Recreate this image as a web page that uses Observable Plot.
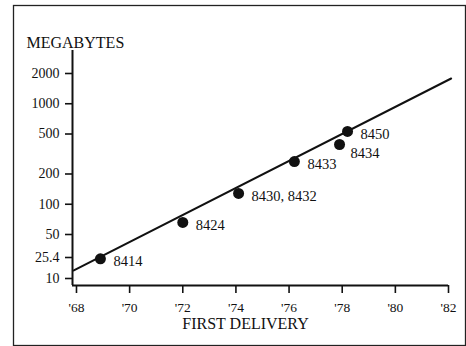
<!DOCTYPE html>
<html><head><meta charset="utf-8">
<script src="https://cdn.jsdelivr.net/npm/d3@7"></script>
<script src="https://cdn.jsdelivr.net/npm/@observablehq/plot@0.6"></script>
<style>
html,body{margin:0;padding:0;background:#fff;}
svg g[aria-label^="x-axis"] path, svg g[aria-label^="y-axis"] path,
svg g[aria-label^="x-axis"] line, svg g[aria-label^="y-axis"] line {stroke-width:1.6px;}
svg g[aria-label^="x-axis"] text {font-size:13.5px;}
</style>
</head><body><div id="chart"></div>
<script>
// Disk drive models, first delivery year and capacity (MB)
const models = ["8414", "8424", "8430, 8432", "8433", "8434", "8450"];
const firstDelivery = [1968.9, 1972.0, 1974.1, 1976.2, 1977.9, 1978.2];
const megabytes = [24, 66, 128, 266, 393, 530];

// Trend line end points
const trendYears = [1967.9, 1982.1];
const trendMegabytes = [14.3, 1784];

// Tick labels
const xTicks = [1968, 1970, 1972, 1974, 1976, 1978, 1980, 1982];
const yTicks = [10, 25.4, 50, 100, 200, 500, 1000, 2000];

const points = models.map((m, i) => ({model: m, year: firstDelivery[i], mb: megabytes[i]}));
const trend = trendYears.map((y, i) => ({year: y, mb: trendMegabytes[i]}));

const yDomain = [7.3, 10, 25.4, 50, 2000];

const chart = Plot.plot({
  width: 466,
  height: 346,
  marginLeft: 72,
  marginRight: 18,
  marginTop: 50,
  marginBottom: 61,
  style: {fontFamily: "'Liberation Serif', 'DejaVu Serif', serif", fontSize: "14px", background: "#fff", color: "#111"},
  x: {
    domain: [1967.85, 1982],
    ticks: xTicks,
    tickFormat: d => "'" + String(d).slice(2),
    tickSize: 8,
    tickPadding: 9,
    label: null
  },
  y: {
    type: "log",
    domain: yDomain,
    range: [285, 278, 257, 234, 73],
    ticks: yTicks,
    tickFormat: () => "",
    tickSize: 7,
    tickPadding: 6,
    label: null
  },
  marks: [
    Plot.frame({stroke: "#222", strokeWidth: 1.3, insetLeft: -59, insetTop: -45, insetRight: -17, insetBottom: -60}),
    Plot.ruleX([1967.85], {stroke: "#111", strokeWidth: 2}),
    Plot.ruleY([yDomain[0]], {stroke: "#111", strokeWidth: 2}),
    Plot.text(yTicks, {y: d => d, frameAnchor: "left", text: d => String(d), textAnchor: "end", dx: -13, fontSize: 14, fill: "#111"}),
    Plot.line(trend, {x: "year", y: "mb", stroke: "#111", strokeWidth: 2}),
    Plot.dot(points, {x: "year", y: "mb", r: 5.5, fill: "#111", stroke: "none"}),
    Plot.text(points.filter(d => d.model !== "8434"), {x: "year", y: "mb", text: "model", textAnchor: "start", dx: 13, dy: 3, fontSize: 14.5, fill: "#111"}),
    Plot.text(points.filter(d => d.model === "8434"), {x: "year", y: "mb", text: "model", textAnchor: "start", dx: 11, dy: 9, fontSize: 14.5, fill: "#111"}),
    Plot.text(["MEGABYTES"], {frameAnchor: "top-left", textAnchor: "start", dx: -46, dy: -14, fontSize: 16, fill: "#111"}),
    Plot.text(["FIRST DELIVERY"], {frameAnchor: "bottom", dx: -15, dy: 43, fontSize: 16, fill: "#111"})
  ]
});
document.getElementById("chart").appendChild(chart);
</script>
</body></html>
